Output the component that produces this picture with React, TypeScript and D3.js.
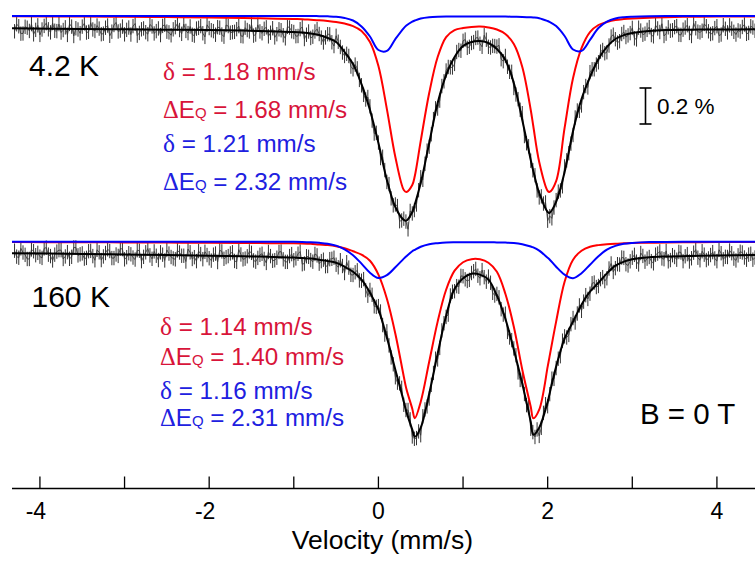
import React from 'react';
import * as d3 from 'd3';

// Velocity grid (mm/s) on which the fitted curves are sampled
const VELOCITY = [-4.35, -3.5, -3.0, -2.5, -2.0, -1.6, -1.3,
  -1.0, -0.9, -0.8, -0.7, -0.6, -0.5, -0.4, -0.3, -0.2, -0.1, 0.0, 0.1, 0.2, 0.3,
  0.33, 0.4, 0.43,
  0.5, 0.6, 0.7, 0.8, 0.9, 1.0, 1.1, 1.2, 1.3, 1.4, 1.5, 1.6, 1.7, 1.8,
  1.83, 1.9, 2.0, 2.02,
  2.1, 2.2, 2.3, 2.4, 2.5, 2.6, 2.7, 2.8, 2.9, 3.0,
  3.2, 3.4, 3.7, 4.0, 4.5];

// 4.2 K spectrum (relative transmission change, %)
const FIT_4K = [-0.068, -0.072, -0.074, -0.076, -0.078, -0.081, -0.085,
  -0.089, -0.092, -0.097, -0.106, -0.122, -0.144, -0.200, -0.267, -0.378, -0.522, -0.706, -0.911, -1.061, -1.133,
  -1.137, -1.089, -1.047,
  -0.928, -0.706, -0.483, -0.328, -0.228, -0.167, -0.144, -0.139, -0.150, -0.183, -0.244, -0.372, -0.578, -0.800,
  -0.861, -0.983, -1.089, -1.094,
  -1.033, -0.867, -0.639, -0.461, -0.339, -0.239, -0.172, -0.128, -0.106, -0.094,
  -0.083, -0.078, -0.076, -0.075, -0.074];
const RED_4K = [-0.002, -0.003, -0.004, -0.006, -0.008, -0.011, -0.014,
  -0.017, -0.018, -0.021, -0.024, -0.028, -0.033, -0.042, -0.056, -0.083, -0.144, -0.278, -0.517, -0.783, -0.967,
  -0.978, -0.939, -0.889,
  -0.694, -0.428, -0.228, -0.117, -0.078, -0.067, -0.061, -0.059, -0.064, -0.075, -0.100, -0.156, -0.283, -0.522,
  -0.611, -0.811, -0.972, -0.978,
  -0.917, -0.622, -0.344, -0.178, -0.089, -0.050, -0.033, -0.022, -0.017, -0.014,
  -0.010, -0.007, -0.004, -0.003, -0.002];
const BLUE_4K = [0, 0, 0, 0, 0, 0, 0,
  0, 0, 0, -0.001, -0.002, -0.004, -0.011, -0.025, -0.058, -0.114, -0.189, -0.194, -0.128, -0.067,
  -0.053, -0.031, -0.025,
  -0.014, -0.007, -0.004, -0.003, -0.003, -0.003, -0.003, -0.003, -0.003, -0.003, -0.003, -0.004, -0.005, -0.007,
  -0.008, -0.012, -0.028, -0.032,
  -0.056, -0.111, -0.186, -0.194, -0.133, -0.067, -0.031, -0.014, -0.007, -0.004,
  -0.001, 0, 0, 0, 0];

// 160 K spectrum
const FIT_160K = [-0.064, -0.068, -0.071, -0.074, -0.078, -0.081, -0.084,
  -0.088, -0.091, -0.094, -0.100, -0.107, -0.117, -0.139, -0.167, -0.211, -0.283, -0.378, -0.533, -0.711, -0.889,
  -0.944, -1.044, -1.083,
  -1.033, -0.844, -0.622, -0.411, -0.261, -0.203, -0.178, -0.183, -0.211, -0.300, -0.428, -0.600, -0.789, -1.000,
  -1.072, -1.033, -0.889, -0.850,
  -0.694, -0.539, -0.444, -0.350, -0.278, -0.228, -0.176, -0.133, -0.111, -0.097,
  -0.086, -0.082, -0.079, -0.077, -0.074];
const RED_160K = [-0.002, -0.003, -0.004, -0.005, -0.006, -0.007, -0.008,
  -0.009, -0.010, -0.012, -0.016, -0.019, -0.025, -0.036, -0.053, -0.072, -0.106, -0.183, -0.317, -0.511, -0.750,
  -0.817, -0.928, -0.981,
  -0.889, -0.667, -0.444, -0.267, -0.161, -0.114, -0.097, -0.098, -0.117, -0.167, -0.289, -0.472, -0.711, -0.917,
  -0.981, -0.933, -0.694, -0.644,
  -0.444, -0.222, -0.100, -0.050, -0.028, -0.019, -0.014, -0.011, -0.009, -0.007,
  -0.006, -0.004, -0.003, -0.002, -0.001];
const BLUE_160K = [0, 0, 0, 0, 0, 0, 0,
  0, -0.001, -0.003, -0.006, -0.011, -0.022, -0.042, -0.075, -0.122, -0.172, -0.202, -0.186, -0.142, -0.094,
  -0.081, -0.053, -0.045,
  -0.028, -0.014, -0.008, -0.004, -0.003, -0.003, -0.003, -0.003, -0.003, -0.004, -0.005, -0.007, -0.014, -0.027,
  -0.032, -0.050, -0.089, -0.097,
  -0.139, -0.183, -0.203, -0.175, -0.128, -0.081, -0.044, -0.023, -0.012, -0.007,
  -0.002, -0.001, 0, 0, 0];

// Measured data, channels from -4.30 mm/s in 0.025 mm/s steps
const DATA_START = -4.3;
const DATA_STEP = 0.025;
const DATA_4K = [
  -0.085,-0.046,-0.057,-0.098,-0.097,-0.060,-0.065,-0.083,-0.045,-0.102,
  -0.077,-0.052,-0.105,-0.075,-0.055,-0.040,-0.074,-0.091,-0.039,-0.082,
  -0.084,-0.045,-0.092,-0.078,-0.063,-0.105,-0.044,-0.059,-0.111,-0.068,
  -0.075,-0.096,-0.059,-0.041,-0.092,-0.088,-0.037,-0.075,-0.083,-0.053,
  -0.070,-0.101,-0.098,-0.065,-0.053,-0.110,-0.087,-0.050,-0.036,-0.086,
  -0.081,-0.059,-0.102,-0.077,-0.064,-0.103,-0.056,-0.042,-0.109,-0.094,
  -0.074,-0.069,-0.090,-0.101,-0.047,-0.058,-0.097,-0.084,-0.069,-0.106,
  -0.055,-0.049,-0.087,-0.091,-0.107,-0.074,-0.062,-0.042,-0.078,-0.099,
  -0.045,-0.083,-0.095,-0.058,-0.104,-0.109,-0.070,-0.066,-0.056,-0.096,
  -0.116,-0.049,-0.067,-0.079,-0.084,-0.104,-0.062,-0.065,-0.103,-0.115,
  -0.050,-0.056,-0.093,-0.090,-0.088,-0.073,-0.056,-0.111,-0.113,-0.065,
  -0.078,-0.086,-0.046,-0.109,-0.103,-0.049,-0.086,-0.096,-0.071,-0.063,
  -0.113,-0.093,-0.068,-0.119,-0.101,-0.074,-0.079,-0.107,-0.124,-0.060,
  -0.064,-0.085,-0.089,-0.112,-0.111,-0.073,-0.061,-0.128,-0.104,-0.086,
  -0.122,-0.115,-0.086,-0.073,-0.100,-0.120,-0.147,-0.119,-0.101,-0.102,
  -0.146,-0.167,-0.110,-0.143,-0.172,-0.203,-0.222,-0.210,-0.222,-0.281,
  -0.296,-0.270,-0.291,-0.355,-0.385,-0.438,-0.464,-0.450,-0.502,-0.581,
  -0.653,-0.649,-0.703,-0.789,-0.782,-0.856,-0.922,-0.934,-1.013,-1.052,
  -1.047,-1.056,-1.140,-1.136,-1.126,-1.142,-1.185,-1.083,-1.097,-1.078,
  -1.047,-0.968,-0.896,-0.910,-0.821,-0.748,-0.726,-0.657,-0.573,-0.513,
  -0.514,-0.470,-0.389,-0.363,-0.303,-0.283,-0.285,-0.286,-0.266,-0.200,
  -0.189,-0.193,-0.138,-0.131,-0.177,-0.171,-0.150,-0.145,-0.122,-0.120,
  -0.154,-0.171,-0.107,-0.132,-0.171,-0.175,-0.166,-0.167,-0.170,-0.163,
  -0.240,-0.251,-0.222,-0.282,-0.310,-0.310,-0.400,-0.436,-0.462,-0.521,
  -0.540,-0.667,-0.707,-0.724,-0.804,-0.857,-0.885,-0.969,-1.008,-1.002,
  -1.042,-1.036,-1.137,-1.112,-1.124,-1.064,-1.023,-0.976,-0.969,-0.946,
  -0.836,-0.802,-0.762,-0.709,-0.661,-0.564,-0.525,-0.527,-0.497,-0.423,
  -0.389,-0.397,-0.312,-0.296,-0.296,-0.270,-0.257,-0.198,-0.189,-0.207,
  -0.201,-0.164,-0.114,-0.104,-0.129,-0.148,-0.140,-0.100,-0.089,-0.117,
  -0.108,-0.095,-0.066,-0.124,-0.130,-0.065,-0.081,-0.104,-0.098,-0.077,
  -0.062,-0.106,-0.113,-0.051,-0.069,-0.089,-0.043,-0.111,-0.098,-0.063,
  -0.082,-0.079,-0.062,-0.056,-0.104,-0.105,-0.076,-0.064,-0.051,-0.094,
  -0.111,-0.040,-0.068,-0.087,-0.091,-0.082,-0.044,-0.057,-0.085,-0.100,
  -0.096,-0.067,-0.057,-0.109,-0.103,-0.051,-0.071,-0.091,-0.052,-0.070,
  -0.088,-0.103,-0.080,-0.086,-0.061,-0.047,-0.099,-0.094,-0.057,-0.064,
  -0.082];
const DATA_160K = [
  -0.050,-0.083,-0.089,-0.037,-0.060,-0.073,-0.096,-0.096,-0.043,-0.053,
  -0.075,-0.062,-0.083,-0.090,-0.037,-0.033,-0.072,-0.080,-0.104,-0.072,
  -0.055,-0.047,-0.047,-0.096,-0.082,-0.058,-0.095,-0.084,-0.032,-0.032,
  -0.076,-0.070,-0.065,-0.094,-0.090,-0.053,-0.051,-0.080,-0.103,-0.045,
  -0.059,-0.102,-0.082,-0.063,-0.042,-0.052,-0.091,-0.091,-0.071,-0.079,
  -0.038,-0.041,-0.098,-0.086,-0.064,-0.070,-0.088,-0.099,-0.047,-0.050,
  -0.108,-0.084,-0.059,-0.038,-0.076,-0.095,-0.054,-0.078,-0.102,-0.059,
  -0.072,-0.104,-0.046,-0.066,-0.085,-0.093,-0.098,-0.048,-0.060,-0.078,
  -0.078,-0.110,-0.041,-0.059,-0.096,-0.086,-0.108,-0.052,-0.069,-0.097,
  -0.056,-0.074,-0.092,-0.105,-0.072,-0.066,-0.113,-0.048,-0.054,-0.095,
  -0.086,-0.080,-0.065,-0.059,-0.107,-0.112,-0.044,-0.071,-0.098,-0.094,
  -0.081,-0.054,-0.062,-0.104,-0.111,-0.090,-0.073,-0.067,-0.096,-0.118,
  -0.057,-0.080,-0.106,-0.103,-0.089,-0.057,-0.055,-0.098,-0.112,-0.112,
  -0.080,-0.069,-0.103,-0.093,-0.067,-0.055,-0.125,-0.121,-0.081,-0.084,
  -0.102,-0.111,-0.068,-0.076,-0.122,-0.108,-0.100,-0.136,-0.135,-0.097,
  -0.095,-0.089,-0.128,-0.142,-0.103,-0.135,-0.174,-0.114,-0.144,-0.184,
  -0.185,-0.170,-0.159,-0.215,-0.217,-0.208,-0.269,-0.300,-0.268,-0.295,
  -0.359,-0.362,-0.358,-0.388,-0.463,-0.516,-0.498,-0.576,-0.643,-0.681,
  -0.753,-0.783,-0.787,-0.812,-0.906,-0.935,-0.935,-0.987,-1.082,-1.095,
  -1.091,-1.054,-1.075,-0.970,-0.932,-0.915,-0.871,-0.795,-0.729,-0.650,
  -0.654,-0.590,-0.493,-0.453,-0.418,-0.405,-0.299,-0.278,-0.275,-0.247,
  -0.250,-0.190,-0.192,-0.209,-0.218,-0.212,-0.174,-0.164,-0.151,-0.189,
  -0.203,-0.158,-0.197,-0.222,-0.194,-0.228,-0.284,-0.299,-0.290,-0.309,
  -0.375,-0.405,-0.400,-0.501,-0.532,-0.547,-0.593,-0.631,-0.726,-0.768,
  -0.768,-0.846,-0.908,-0.918,-1.039,-1.058,-1.085,-1.043,-1.079,-1.034,
  -0.951,-0.903,-0.914,-0.847,-0.761,-0.762,-0.702,-0.650,-0.636,-0.550,
  -0.526,-0.532,-0.518,-0.458,-0.424,-0.449,-0.399,-0.354,-0.384,-0.333,
  -0.297,-0.318,-0.289,-0.231,-0.227,-0.252,-0.246,-0.208,-0.197,-0.219,
  -0.203,-0.149,-0.121,-0.168,-0.147,-0.125,-0.127,-0.088,-0.090,-0.125,
  -0.132,-0.109,-0.089,-0.073,-0.111,-0.126,-0.063,-0.079,-0.111,-0.094,
  -0.085,-0.108,-0.120,-0.072,-0.066,-0.054,-0.093,-0.097,-0.051,-0.109,
  -0.102,-0.075,-0.085,-0.100,-0.057,-0.060,-0.108,-0.081,-0.069,-0.110,
  -0.092,-0.061,-0.044,-0.089,-0.103,-0.053,-0.072,-0.102,-0.093,-0.074,
  -0.058,-0.093,-0.108,-0.045,-0.064,-0.098,-0.084,-0.085,-0.049,-0.064,
  -0.094,-0.104,-0.076,-0.056,-0.060,-0.088,-0.100,-0.072,-0.067,-0.100,
  -0.088];
const DATA_ERROR = 0.04;

const X_TICKS = [-4, -3, -2, -1, 0, 1, 2, 3, 4];
const X_TICK_LABELS = [-4, -2, 0, 2, 4];
const X_DOMAIN = [-4.33, 4.45];

const TEMP_LABELS = ['4.2 K', '160 K'];
const PARAMS_4K = [
  { kind: 'delta', value: '1.18', comp: 'red' },
  { kind: 'deq', value: '1.68', comp: 'red' },
  { kind: 'delta', value: '1.21', comp: 'blue' },
  { kind: 'deq', value: '2.32', comp: 'blue' },
];
const PARAMS_160K = [
  { kind: 'delta', value: '1.14', comp: 'red' },
  { kind: 'deq', value: '1.40', comp: 'red' },
  { kind: 'delta', value: '1.16', comp: 'blue' },
  { kind: 'deq', value: '2.31', comp: 'blue' },
];
const FIELD_LABEL = 'B = 0 T';
const SCALE_LABEL = '0.2 %';
const SCALE_SIZE = 0.2;
const AXIS_TITLE = 'Velocity (mm/s)';

const W = 755;
const H = 563;
const SANS = '"Liberation Sans", Arial, Helvetica, sans-serif';
const SERIF = '"Liberation Serif", "Times New Roman", serif';
const TEXT_COLOR = { red: '#d8143a', blue: '#2020e0' };
const CURVE_COLOR = { red: '#ff0000', blue: '#0000ff' };

function ParamLine({ p, x, y }: { p: any; x: number; y: number }) {
  const fill = TEXT_COLOR[p.comp as 'red' | 'blue'];
  if (p.kind === 'delta') {
    return (
      <text x={x} y={y} fill={fill} fontSize={24.2} fontFamily={SANS}>
        <tspan fontFamily={SERIF} fontSize={25.5}>δ</tspan>
        <tspan>{` = ${p.value} mm/s`}</tspan>
      </text>
    );
  }
  return (
    <text x={x} y={y} fill={fill} fontSize={24.2} fontFamily={SANS}>
      <tspan fontFamily={SERIF} fontSize={24.5}>Δ</tspan>
      <tspan>E</tspan>
      <tspan fontSize={15}>Q</tspan>
      <tspan>{` = ${p.value} mm/s`}</tspan>
    </text>
  );
}

export default function App() {
  const x = d3.scaleLinear().domain(X_DOMAIN).range([12, 755]);
  const yTop = d3.scaleLinear().domain([0, -1]).range([16, 196]);
  const yBot = d3.scaleLinear().domain([0, -1]).range([241.7, 421.7]);
  const axisY = 488.5;

  const curve = (vals: number[], y: d3.ScaleLinear<number, number>) =>
    d3.line<number>()
      .x((_, i) => x(VELOCITY[i]))
      .y((d) => y(d))
      .curve(d3.curveCatmullRom.alpha(0.5))(vals) || '';

  const dataPts = (vals: number[]) => vals.map((d, i) => [DATA_START + i * DATA_STEP, d] as [number, number]);

  const renderSpectrum = (fit: number[], red: number[], blue: number[], data: number[], y: d3.ScaleLinear<number, number>, key: string) => {
    const pts = dataPts(data);
    const dataLine = d3.line<[number, number]>().x((d) => x(d[0])).y((d) => y(d[1]))(pts) || '';
    const bars = pts.map((d) => `M${x(d[0]).toFixed(2)},${y(d[1] - DATA_ERROR).toFixed(2)}V${y(d[1] + DATA_ERROR).toFixed(2)}`).join('');
    return (
      <g key={key} clipPath="url(#plotClip)">
        <path d={dataLine} fill="none" stroke="#333" strokeWidth={0.8} />
        <path d={bars} fill="none" stroke="#333" strokeWidth={1} />
        <path d={curve(fit, y)} fill="none" stroke="#000" strokeWidth={2} />
        <path d={curve(red, y)} fill="none" stroke={CURVE_COLOR.red} strokeWidth={2} />
        <path d={curve(blue, y)} fill="none" stroke={CURVE_COLOR.blue} strokeWidth={2} />
      </g>
    );
  };

  const scaleX = 645.5;
  const scaleTop = yTop(-0.4);
  const scaleBottom = yTop(-0.4 - SCALE_SIZE);

  return (
    <svg width={W} height={H} style={{ position: 'absolute', left: 0, top: 0, background: '#fff' }}>
      <defs>
        <clipPath id="plotClip">
          <rect x={12} y={0} width={W - 12} height={480} />
        </clipPath>
      </defs>
      <rect x={0} y={0} width={W} height={H} fill="#fff" />

      {renderSpectrum(FIT_4K, RED_4K, BLUE_4K, DATA_4K, yTop, 'top')}
      {renderSpectrum(FIT_160K, RED_160K, BLUE_160K, DATA_160K, yBot, 'bot')}

      <text x={29} y={76} fontSize={30} fontFamily={SANS} fill="#000">{TEMP_LABELS[0]}</text>
      <text x={31.5} y={307} fontSize={30} fontFamily={SANS} fill="#000">{TEMP_LABELS[1]}</text>

      {PARAMS_4K.map((p, i) => (
        <ParamLine key={'a' + i} p={p} x={163} y={[80, 117.5, 152, 190][i]} />
      ))}
      {PARAMS_160K.map((p, i) => (
        <ParamLine key={'b' + i} p={p} x={160} y={[335, 365, 398.5, 426][i]} />
      ))}

      <text x={640} y={424} fontSize={29.5} fontFamily={SANS} fill="#000">{FIELD_LABEL}</text>

      {/* scale bar */}
      <g stroke="#000" strokeWidth={1.6}>
        <line x1={scaleX} x2={scaleX} y1={scaleTop} y2={scaleBottom} />
        <line x1={scaleX - 6} x2={scaleX + 6} y1={scaleTop} y2={scaleTop} />
        <line x1={scaleX - 6} x2={scaleX + 6} y1={scaleBottom} y2={scaleBottom} />
      </g>
      <text x={657} y={113.5} fontSize={22.5} fontFamily={SANS} fill="#000">{SCALE_LABEL}</text>

      {/* x axis */}
      <line x1={12} x2={W} y1={axisY} y2={axisY} stroke="#000" strokeWidth={1.6} />
      {X_TICKS.map((t) => (
        <line key={t} x1={x(t)} x2={x(t)} y1={axisY} y2={axisY - 12} stroke="#000" strokeWidth={1.3} />
      ))}
      {X_TICK_LABELS.map((t) => (
        <text key={t} x={x(t)} y={518.5} fontSize={23} fontFamily={SANS} textAnchor="middle" fill="#000"
          dx={t < 0 ? -4 : 0}>{String(t)}</text>
      ))}
      <text x={x(0) + 4} y={549} fontSize={26.5} fontFamily={SANS} textAnchor="middle" fill="#000">{AXIS_TITLE}</text>
    </svg>
  );
}
